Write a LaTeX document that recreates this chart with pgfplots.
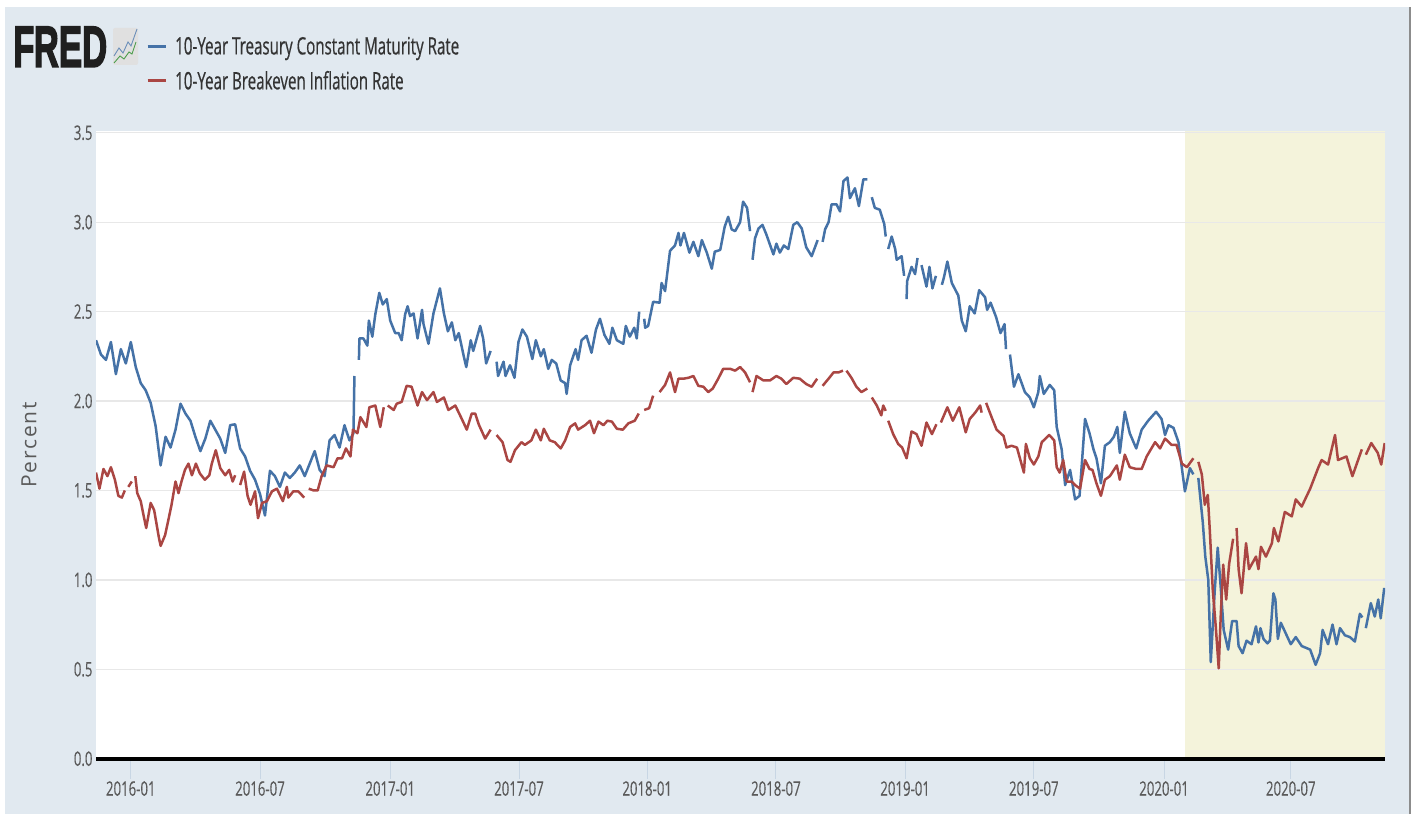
\documentclass[border=0pt]{standalone}
\usepackage{graphicx}
\usepackage{fontspec}
\setmainfont[FakeStretch=0.66,FakeBold=0.25]{Open Sans}
\newfontfamily\legendfont[FakeStretch=0.63,FakeBold=0.5]{Open Sans}
\newfontfamily\plainfont{Open Sans}
\newfontfamily\fredfont[FakeBold=3]{Liberation Sans Bold}
\usepackage{pgfplots}
\pgfplotsset{compat=1.18}
\definecolor{fredbg}{HTML}{E1E9F0}
\definecolor{fredblue}{HTML}{4572A7}
\definecolor{fredred}{HTML}{AA4643}
\definecolor{recess}{HTML}{F4F3DB}
\definecolor{gridc}{HTML}{E8E8E8}
\definecolor{tickc}{HTML}{C8D6E4}
\definecolor{labelc}{HTML}{5A5A5A}
\pgfdeclarelayer{pagebg}
\pgfdeclarelayer{axis background}
\pgfdeclarelayer{shade}
\pgfdeclarelayer{axis grid}
\pgfdeclarelayer{axis ticks}
\pgfdeclarelayer{axis lines}
\pgfdeclarelayer{axis tick labels}
\pgfdeclarelayer{axis descriptions}
\pgfdeclarelayer{axis foreground}
\pgfsetlayers{pagebg,axis background,shade,axis grid,axis ticks,axis lines,axis tick labels,main,axis descriptions,axis foreground}
\pgfplotsset{layers/withpage/.define layer set={pagebg,axis background,shade,axis grid,axis ticks,axis lines,axis tick labels,main,axis descriptions,axis foreground}{}}
\begin{document}
\begin{tikzpicture}[x=1pt,y=1pt]
\begin{pgfonlayer}{pagebg}
\fill[white] (0,0) rectangle (1416,814);
\fill[fredbg] (5,0) rectangle (1409,807);
\draw[gray!90,line width=2pt] (1410,0) -- (1410,807);
\end{pgfonlayer}
% FRED logo
\node[anchor=south west,inner sep=0pt,text=black!88] at (13,747) {\resizebox{94pt}{40pt}{\fredfont F\kern-0.02em RED}};
\fill[black!12,rounded corners=2pt] (113,749) rectangle (138,786);
\draw[fredblue!80,line width=0.9pt] (114,758) -- (119,766) -- (123,761) -- (128,772) -- (131,768) -- (137,785);
\draw[green!45!black!70,line width=0.9pt] (114,751) -- (120,758) -- (124,755) -- (129,762) -- (132,760) -- (136,772);
\begin{axis}[
  at={(96pt,55.3pt)},anchor=south west,
  scale only axis,width=1289pt,height=627.7pt,
  xmin=0,xmax=259.36,ymin=0,ymax=3.51,
  set layers=withpage,
  unbounded coords=jump,
  axis x line=bottom,axis y line=left,
  separate axis lines,
  x axis line style={-,black,line width=4pt},
  y axis line style={-,draw=none},
  xtick={7.0,33.0,59.2,85.1,110.9,136.8,162.8,188.7,214.9,240.4},
  xticklabels={2016-01,2016-07,2017-01,2017-07,2018-01,2018-07,2019-01,2019-07,2020-01,2020-07},
  ytick={0,0.5,1,1.5,2,2.5,3,3.5},
  yticklabels={0.0,0.5,1.0,1.5,2.0,2.5,3.0,3.5},
  tick align=outside,
  major tick length=20pt,
  x tick style={tickc,line width=0.8pt},
  y tick style={draw=none},
  ymajorgrids,
  y grid style={gridc,line width=1.4pt},
  tick label style={font=\fontsize{20}{22}\selectfont,text=labelc},
  every x tick label/.append style={yshift=1pt},
  every y tick label/.append style={xshift=20pt},
  legend style={draw=none,fill=none,at={(0.0,1.0)},anchor=south west,xshift=50pt,yshift=38pt,
    font=\legendfont\fontsize{24}{26}\selectfont,text=black!80,row sep=11pt,inner sep=0pt,
    /tikz/column 1/.style={column sep=6pt}},
  legend cell align=left,
  legend image code/.code={\draw[#1,line width=3pt] (0pt,0pt) -- (18pt,0pt);},
  clip=true,
]
\pgfplotsextra{\begin{pgfonlayer}{shade}\fill[white] (axis cs:0,0) rectangle (axis cs:259.36,3.51);\fill[recess] (axis cs:219.1,0) rectangle (axis cs:259.36,3.51);\end{pgfonlayer}}
\addplot[fredblue,line width=2.5pt,line join=round] coordinates {
(0,2.34)(1,2.26)(2,2.23)(3,2.33)(4,2.15)(5,2.29)(6,2.21)(7,2.33)(8,2.19)(9,2.10)(10,2.06)(11,1.99)(12,1.86)(13,1.64)
(14,1.80)(15,1.74)(16,1.84)(17,1.985)(18,1.93)(19,1.89)(20,1.80)(21,1.72)(22,1.79)(23,1.89)(24,1.84)(25,1.79)(26,1.71)
(27,1.865)(28,1.87)(29,1.735)(30,1.69)(31,1.61)(32,1.56)(33,1.48)(34,1.36)(35,1.61)(36,1.58)(37,1.52)(38,1.60)
(39,1.57)(40,1.60)(41,1.64)(42,1.58)(43,1.65)(44,1.72)(45,1.615)(46,1.58)(47,1.78)(48,1.81)(49,1.74)(50,1.865)(51,1.78)
(51.8,1.82)(52,2.14)(52.4,nan)(52.9,2.23)(53,2.35)(53.8,2.35)(54.6,2.31)(54.9,2.45)(55.6,2.36)(56.2,2.485)(57,2.605)(57.7,2.54)(58.5,2.57)
(59.2,2.45)(60.2,2.38)(60.9,2.38)(61.5,2.34)(62.2,2.485)(62.7,2.53)(63.2,2.475)(63.9,2.49)(64.7,2.35)(65.6,2.51)(65.9,2.43)
(66.9,2.32)(67.9,2.49)(69.2,2.63)(70,2.49)(70.8,2.39)(71.6,2.44)(72.3,2.34)(73,2.38)(74,2.25)(74.5,2.19)(75.4,2.34)(75.9,2.28)
(77.3,2.42)(77.9,2.35)(78.5,2.21)(79.4,2.28)(79.8,nan)(80.6,2.22)(80.9,2.14)(82,2.22)(82.4,2.14)(83.3,2.20)(84.2,2.13)
(85,2.33)(85.8,2.40)(86.7,2.36)(87.8,2.235)(88.5,2.34)(89.5,2.25)(90.1,2.29)(91,2.18)(91.7,2.23)(92.6,2.21)(93.5,2.115)
(94.4,2.10)(94.7,2.04)(95.4,2.20)(96.5,2.29)(97,2.23)(97.7,2.34)(98.7,2.365)(99.7,2.27)(100.6,2.40)(101.4,2.46)(102.3,2.37)
(103.3,2.32)(103.9,2.41)(104.8,2.34)(106.1,2.32)(106.6,2.42)(107.4,2.36)(108.3,2.41)(108.8,2.35)(109.3,2.50)(109.8,nan)
(110.3,2.46)(110.5,2.41)(111.1,2.42)(112.1,2.555)(113.4,2.55)(113.8,2.66)(114.5,2.615)(115.5,2.84)(116.5,2.87)(117.2,2.94)
(117.6,2.87)(118.3,2.94)(119.4,2.83)(120.2,2.89)(121.2,2.81)(121.9,2.90)(122.9,2.83)(123.9,2.74)(124.5,2.835)(125.6,2.845)
(126.5,2.975)(127.2,3.03)(127.9,2.96)(128.6,2.95)(129.6,3.00)(130.2,3.115)(131,3.08)(131.6,2.95)(131.9,nan)(132.1,2.79)
(132.6,2.91)(133.3,2.965)(134.1,2.985)(134.9,2.93)(136.3,2.82)(136.9,2.88)(137.6,2.83)(138.4,2.87)(139.3,2.85)(140.3,2.985)
(141.1,3.00)(142,2.965)(142.9,2.86)(144,2.81)(145.2,2.90)(145.7,nan)(146.2,2.89)(146.7,2.96)(147.4,3.00)(148,3.10)(149,3.10)
(149.7,3.06)(150.4,3.23)(151.2,3.25)(151.7,3.135)(152.7,3.19)(153.5,3.09)(154.4,3.24)(155.2,3.24)(155.6,nan)(156.1,3.14)
(156.7,3.08)(157.7,3.07)(158.6,2.99)(158.9,2.92)(159.2,nan)(159.4,2.85)(160.1,2.92)(160.8,2.85)(161.1,2.79)(162.1,2.81)
(162.6,2.70)(162.9,nan)(163.1,2.57)(163.2,2.67)(164.1,2.75)(164.8,2.71)(165.3,2.80)(165.8,nan)(166.1,2.76)(167.1,2.64)
(167.7,2.75)(168.3,2.63)(169,2.70)(169.6,nan)(170.2,2.65)(170.6,2.69)(171.3,2.78)(172.2,2.66)(173.5,2.59)(174.2,2.45)
(175,2.39)(175.8,2.53)(176.8,2.49)(177.7,2.62)(178.9,2.58)(179.3,2.51)(180,2.55)(181.1,2.47)(182,2.38)(182.8,2.43)(183.1,2.29)
(183.5,nan)(183.9,2.26)(184.7,2.08)(185.6,2.15)(186.9,2.05)(187.9,2.02)(188.7,1.965)(189.6,2.05)(189.9,2.14)(190.7,2.04)
(191.9,2.09)(192.8,2.06)(193.3,1.855)(194.3,1.73)(195,1.53)(196,1.615)(197,1.45)(197.9,1.47)(199,1.90)(199.9,1.82)(200.7,1.73)
(201.3,1.68)(202.2,1.54)(203,1.75)(204,1.77)(204.8,1.80)(205.5,1.855)(206,1.71)(207,1.94)(208,1.82)(209.3,1.735)(210.4,1.84)
(211.7,1.89)(213.3,1.94)(214.4,1.90)(215.1,1.81)(215.8,1.865)(216.8,1.85)(217.8,1.77)(219.1,1.495)(220.1,1.625)(220.8,1.59)
(221.4,nan)(221.8,1.57)(222.7,1.32)(223.2,1.13)(223.8,1.00)(224.3,0.54)(225.1,0.94)(225.7,1.18)(226.3,0.96)(226.9,0.72)
(227.8,0.61)(228.6,0.77)(229.5,0.77)(229.9,0.63)(230.7,0.59)(231.5,0.66)(232.5,0.64)(233.4,0.74)(233.9,0.65)(234.3,0.73)
(234.9,0.67)(235.7,0.645)(236.2,0.66)(236.9,0.925)(237.3,0.89)(237.8,0.67)(238.4,0.76)(239.4,0.70)(240.4,0.64)(241.4,0.68)
(242.6,0.63)(244.3,0.61)(245.4,0.525)(246.3,0.59)(246.8,0.72)(247.9,0.64)(248.8,0.75)(249.6,0.64)(250.3,0.73)(251.3,0.69)
(252.3,0.68)(253.3,0.655)(254.3,0.81)(254.8,0.79)(255.2,nan)(255.5,0.73)(256.5,0.87)(257.3,0.795)(258,0.89)(258.5,0.785)(259.2,0.955)
};
\addlegendentry{10-Year Treasury Constant Maturity Rate}
\addplot[fredred,line width=2.5pt,line join=round] coordinates {
(0,1.60)(0.7,1.51)(1.5,1.62)(2.3,1.58)(3,1.63)(3.8,1.56)(4.5,1.47)(5.2,1.46)(5.8,1.50)(6.2,nan)(6.5,1.52)(7.2,1.55)(7.5,nan)
(7.9,1.58)(8.3,1.485)(9,1.44)(9.5,1.37)(10.1,1.29)(11,1.43)(11.7,1.39)(12.6,1.245)(13,1.19)(13.9,1.25)(14.6,1.34)(15.2,1.42)
(16,1.55)(16.6,1.485)(17.2,1.55)(17.9,1.615)(18.6,1.65)(19.3,1.585)(20.1,1.65)(20.9,1.595)(21.9,1.56)(22.8,1.585)(23.3,1.65)
(24.1,1.725)(25,1.625)(26,1.585)(26.8,1.615)(27.5,1.55)(28,1.585)(28.5,nan)(29,1.53)(29.8,1.605)(30.5,1.47)(31.1,1.42)(32,1.495)
(32.6,1.345)(33.4,1.43)(34.4,1.44)(35.4,1.495)(36.4,1.51)(37.6,1.44)(38.4,1.52)(38.7,1.46)(39.7,1.495)(40.7,1.495)(41.9,1.46)
(42.3,nan)(42.8,1.51)(43.8,1.50)(44.6,1.50)(45.4,1.58)(46.4,1.64)(47.8,1.63)(48.6,1.68)(49.5,1.68)(50.3,1.735)(51.2,1.69)
(51.7,1.84)(52.6,1.82)(53.2,1.91)(54.4,1.855)(55,1.965)(56.2,1.975)(57.2,1.855)(57.9,1.965)(58.2,nan)(58.7,1.975)(59.9,1.95)
(60.5,1.985)(61.5,1.995)(62.5,2.085)(63.5,2.08)(64.7,1.975)(65.6,2.05)(66.6,2.005)(67.9,2.05)(68.6,1.995)(70,2.02)(70.9,1.95)
(72.3,1.975)(73.6,1.90)(74.6,1.84)(75.6,1.93)(76.3,1.93)(77,1.87)(78.3,1.79)(79.4,1.84)(79.9,nan)(80.6,1.81)(81.8,1.77)
(82.8,1.67)(83.4,1.66)(84.3,1.725)(85.6,1.77)(86.3,1.755)(87.6,1.78)(88.5,1.84)(89.5,1.78)(90.1,1.845)(91.3,1.78)(92.3,1.77)
(93.5,1.735)(94.4,1.78)(95.4,1.855)(96.4,1.875)(97,1.84)(98.4,1.865)(99.4,1.89)(100.2,1.82)(101.1,1.885)(102.1,1.865)(102.9,1.89)
(103.8,1.885)(104.8,1.845)(106,1.84)(107.1,1.875)(108.4,1.89)(109.2,1.93)(109.6,nan)(110.3,1.95)(111.3,1.96)(112.1,2.03)(112.7,nan)
(113.4,2.05)(114.5,2.09)(115.5,2.16)(116.5,2.05)(117.2,2.125)(118.2,2.125)(119.2,2.13)(120.2,2.14)(121.2,2.085)(122.2,2.08)
(123.2,2.05)(124.1,2.07)(125.2,2.125)(126.2,2.18)(127.6,2.18)(128.6,2.17)(129.6,2.19)(130.6,2.16)(131.6,2.105)(131.9,nan)
(132.1,2.05)(132.9,2.14)(134.3,2.115)(135.6,2.115)(136.9,2.14)(137.9,2.125)(138.9,2.095)(140.3,2.13)(141.6,2.125)(142.9,2.095)
(144,2.08)(145.1,2.125)(145.7,nan)(146.2,2.085)(147.4,2.125)(148.4,2.16)(149.4,2.16)(150.3,2.17)(150.8,nan)(151,2.17)(152,2.13)
(153,2.08)(154,2.05)(155.2,2.07)(155.6,nan)(156.1,2.02)(157.1,1.975)(158,1.92)(158.4,1.975)(158.9,1.945)(159.2,nan)(159.4,1.89)
(160.4,1.815)(161.4,1.76)(162.2,1.74)(163.1,1.68)(164.1,1.83)(165.1,1.815)(166.1,1.75)(167.1,1.88)(168.2,1.815)(169.1,1.87)
(169.6,nan)(170,1.88)(171.3,1.965)(172.4,1.89)(173.7,1.965)(175,1.825)(175.8,1.90)(176.9,1.935)(177.9,1.975)(178.2,1.935)
(178.7,nan)(179.1,1.99)(180.2,1.91)(181.2,1.84)(182.6,1.805)(183.2,1.74)(184.2,1.75)(185.3,1.74)(186.3,1.64)(186.7,1.60)
(187.1,1.76)(187.9,1.68)(188.7,1.645)(189.6,1.69)(190.3,1.77)(191.8,1.81)(192.8,1.78)(193.3,1.63)(193.9,1.60)(194.6,1.67)
(195.3,1.55)(196.3,1.55)(197,1.53)(198,1.51)(199,1.67)(199.9,1.62)(200.5,1.615)(201.3,1.54)(202.2,1.47)(203,1.56)(204,1.58)
(205.4,1.64)(206,1.56)(207,1.70)(208,1.63)(209.3,1.62)(210.4,1.62)(211.4,1.69)(213.1,1.77)(214.1,1.735)(215.1,1.79)(216.4,1.755)
(217.4,1.755)(218.5,1.65)(219.5,1.63)(220.8,1.68)(221.2,nan)(221.8,1.66)(222.5,1.59)(223.1,1.42)(223.7,1.475)(224.1,1.28)
(224.7,0.945)(225.3,0.74)(225.9,0.505)(226.3,0.795)(226.8,1.085)(227.4,0.89)(228,1.09)(228.8,1.23)(229.1,nan)(229.5,1.29)
(229.9,1.06)(230.5,0.925)(231.4,1.205)(232,1.06)(233.4,1.13)(233.9,1.06)(234.4,1.185)(235.4,1.13)(236.6,1.205)(237,1.29)
(237.9,1.215)(239.2,1.38)(240.6,1.355)(241.4,1.45)(242.6,1.41)(244.3,1.51)(245.9,1.625)(246.6,1.67)(247.9,1.645)(249.3,1.81)
(249.9,1.67)(251.6,1.69)(252.8,1.58)(254.7,1.73)(255.1,nan)(255.5,1.70)(256.6,1.765)(257.9,1.71)(258.6,1.645)(259.3,1.765)
};
\addlegendentry{10-Year Breakeven Inflation Rate}
\end{axis}
\node[rotate=90,text=labelc,inner sep=0pt] at (29,369) {\resizebox{85pt}{!}{\plainfont\fontsize{13}{15}\selectfont P\kern0.08em e\kern0.08em r\kern0.08em c\kern0.08em e\kern0.08em n\kern0.08em t}};
\end{tikzpicture}
\end{document}
